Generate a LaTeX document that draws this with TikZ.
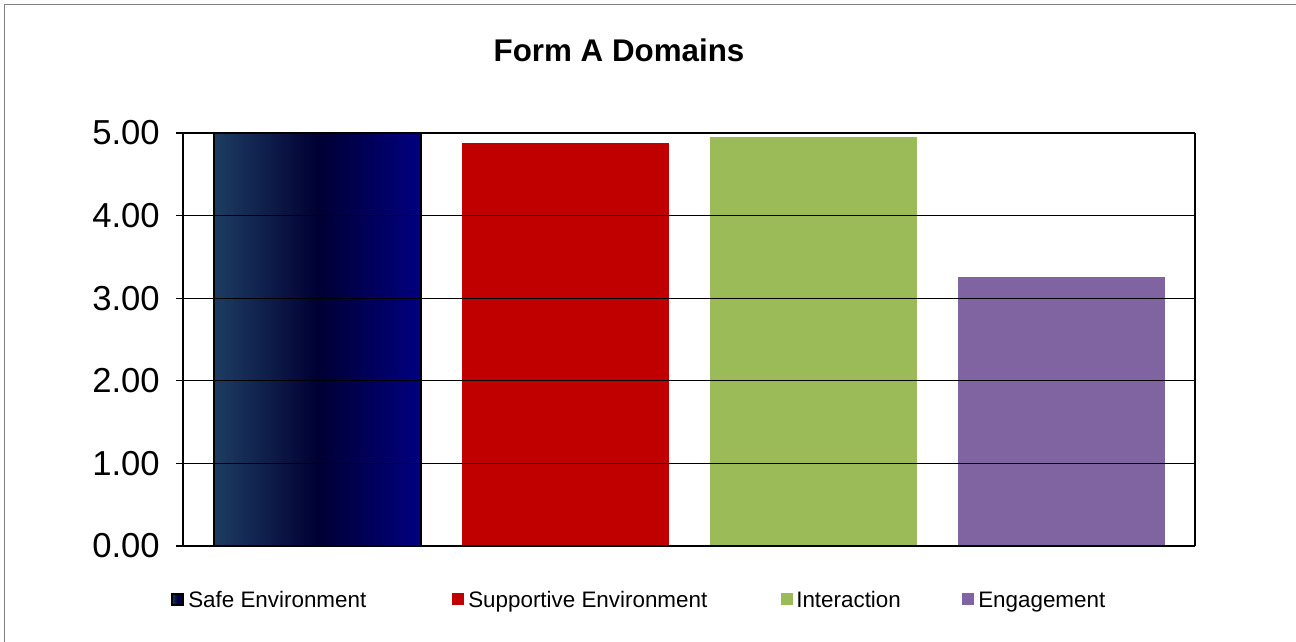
\documentclass[tikz,border=0pt]{standalone}
\usepackage{fontspec}
\setmainfont{Liberation Sans}
\definecolor{safeL}{HTML}{1D3C62}
\definecolor{safeM}{HTML}{000033}
\definecolor{safeR}{HTML}{000080}
\definecolor{suppRed}{HTML}{C00000}
\definecolor{interGreen}{HTML}{9BBB59}
\definecolor{engPurple}{HTML}{8064A2}
\begin{document}
\begin{tikzpicture}[x=0.75pt,y=-0.75pt]
		\tikzset{ticklabel/.style = {anchor=east,inner sep=0pt,font=\fontsize{26}{28}\selectfont}}
		\tikzset{safefill/.style = {left color=safeL,right color=safeR,middle color=safeM}}
		\tikzset{legbox/.style = {minimum size=8.5pt,inner sep=0pt}}
		\tikzset{leglabel/.style = {anchor=base west,inner sep=0pt,font=\fontsize{16.8}{18}\selectfont}}
		\useasboundingbox (0,0) rectangle (1296,642);
		\draw[gray,line width=1pt] (4.5,642) -- (4.5,4.5) -- (1296,4.5);
		\node[font=\bfseries\fontsize{23.5}{26}\selectfont] (title) at (619,50) {Form A Domains};
		% bars
		\shade[safefill] (214,546) rectangle (421,133);
		\draw[line width=1.5pt] (214,546) rectangle (421,133);
		\fill[suppRed] (462,546) rectangle (669,143);
		\fill[interGreen] (710,546) rectangle (917,137);
		\fill[engPurple] (958,546) rectangle (1165,277);
		% grid and axis
		\foreach \v in {0,...,5} {
			\pgfmathsetmacro\yy{546-82.6*\v}
			\draw[line width=0.8pt] (176,\yy) -- (1195,\yy);
			\node[ticklabel] (tick\v) at (160,\yy) {\v.00};
		}
		\draw[line width=0.8pt] (183,133) -- (183,546);
		\draw[line width=0.8pt] (1195,133) -- (1195,546);
		% legend
		\node[legbox,draw=black,line width=1.2pt,safefill] (ksafe) at (177.5,599.5) {};
		\node[leglabel] (lsafe) at (188,607) {Safe Environment};
		\node[legbox,fill=suppRed] (ksupp) at (458,599) {};
		\node[leglabel] (lsupp) at (468,607) {Supportive Environment};
		\node[legbox,fill=interGreen] (kinter) at (787,599) {};
		\node[leglabel] (linter) at (796,607) {Interaction};
		\node[legbox,fill=engPurple] (keng) at (968,599) {};
		\node[leglabel] (leng) at (978,607) {Engagement};
	\end{tikzpicture}
\end{document}
